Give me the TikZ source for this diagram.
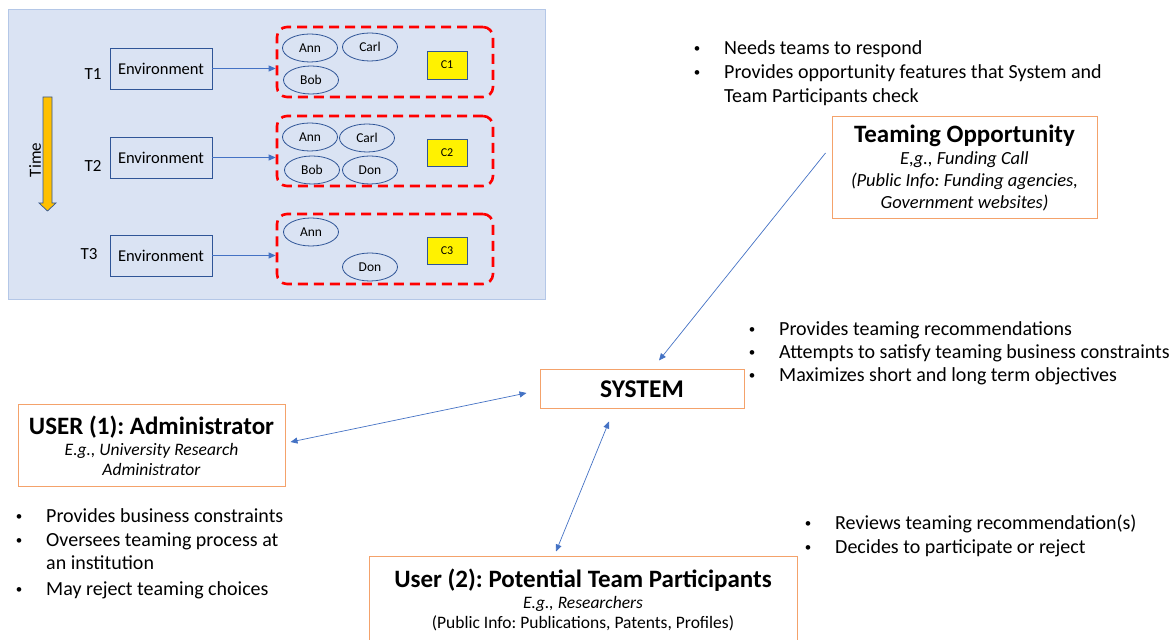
\documentclass[tikz,border=0pt]{standalone}
\usepackage{fontspec}
\setmainfont{Carlito}
\usetikzlibrary{calc,positioning,arrows.meta,shapes.geometric}
\frenchspacing

\definecolor{panelblue}{HTML}{DAE3F3}
\definecolor{panelline}{HTML}{B4C7E7}
\definecolor{darkblue}{HTML}{2F5597}
\definecolor{linkblue}{HTML}{4472C4}
\definecolor{boxorange}{HTML}{F4A26B}
\definecolor{timegold}{HTML}{FFC000}

\newcommand{\titlefont}{\fontsize{25}{29}\selectfont\bfseries}
\newcommand{\listfont}{\fontsize{20}{24}\selectfont}

\tikzset{
  tlabel/.style={font=\fontsize{17}{20}\selectfont},
  env/.style={draw=darkblue, line width=0.9pt, minimum width=102pt, minimum height=41pt,
    inner sep=0pt, font=\fontsize{16.5}{20}\selectfont},
  group/.style={draw=red, line width=2.6pt, dash pattern=on 10pt off 6pt,
    rounded corners=10pt, minimum width=216pt, minimum height=70pt},
  member/.style={draw=darkblue, ellipse, line width=0.8pt, minimum width=55pt,
    minimum height=28pt, inner sep=0pt, font=\fontsize{13.5}{15}\selectfont},
  cbox/.style={draw=darkblue, fill=yellow, line width=0.8pt, minimum width=40pt,
    minimum height=28pt, inner sep=0pt, font=\fontsize{12}{13}\selectfont},
  role/.style={draw=boxorange, line width=1pt, align=center, inner sep=0pt},
  envlink/.style={->, linkblue, line width=0.7pt},
  link/.style={->, linkblue, line width=0.7pt},
  bul/.style={inner sep=0pt, font=\listfont},
}

% bullet item: name, x, baseline y, text
\newcommand{\bitem}[4]{%
  \node[bul, anchor=base] (#1dot) at (#2,#3)
    {\raisebox{2.3pt}{\fontsize{13}{13}\selectfont\textbullet}};
  \node[bul, anchor=base west] (#1) at ($(#2,#3)+(27,0)$) {#4};}
% continuation line of an item
\newcommand{\bmore}[4]{%
  \node[bul, anchor=base west] (#1) at ($(#2,#3)+(27,0)$) {#4};}

\begin{document}
\begin{tikzpicture}[x=1pt,y=1pt,>={Triangle[width=6pt,length=7pt]}]
    \useasboundingbox (0,0) rectangle (1176,640);
    %
    % left panel: teams over time
    \draw[fill=panelblue, draw=panelline, line width=0.8pt] (8,341) rectangle (545,631);
    \node[tlabel] (t1) at (93,566) {T1};
    \node[tlabel] (t2) at (93,474) {T2};
    \node[tlabel] (t3) at (89,386) {T3};
    \node[env] (env1) at (161,571.5) {Environment};
    \node[env] (env2) at (161,482.5) {Environment};
    \node[env] (env3) at (161,384.5) {Environment};
    \node[group] (grp1) at (385,578) {};
    \node[group] (grp2) at (385,489) {};
    \node[group] (grp3) at (385,391) {};
    \draw[envlink] (env1.east) -- (env1.east -| grp1.west);
    \draw[envlink] (env2.east) -- (env2.east -| grp2.west);
    \draw[envlink] (env3.east) -- (env3.east -| grp3.west);
    %
    \node[member] (ann1) at (310,592) {Ann};
    \node[member] (carl1) at (370,593) {Carl};
    \node[member] (bob1) at (311,560) {Bob};
    \node[cbox] (c1) at (447,575) {C1};
    %
    \node[member] (ann2) at (310,503) {Ann};
    \node[member] (carl2) at (367,502) {Carl};
    \node[member] (bob2) at (312,470) {Bob};
    \node[member] (don2) at (370,470) {Don};
    \node[cbox, minimum height=27pt] (c2) at (447,487.5) {C2};
    %
    \node[member] (ann3) at (311,408) {Ann};
    \node[member] (don3) at (370,373) {Don};
    \node[cbox, minimum height=27pt] (c3) at (447,389.5) {C3};
    %
    % time arrow
    \draw[fill=timegold, draw=darkblue, line width=0.7pt]
        (43,543) -- (52,543) -- (52,437) -- (56,437) -- (47.5,429)
        -- (39,437) -- (43,437) -- cycle;
    \node[tlabel, rotate=90] (time) at (35,480) {Time};
    %
    % roles
    \node[role, minimum width=265pt, minimum height=102pt, font=\fontsize{18.5}{22}\selectfont]
        (opp) at (964.5,472) {{\titlefont Teaming Opportunity}\\ \textit{E,g., Funding Call}\\
        \textit{(Public Info: Funding agencies,}\\ \textit{Government websites)}};
    \node[role, minimum width=204pt, minimum height=39pt, font=\fontsize{25.5}{29}\selectfont\bfseries]
        (sys) at (642,250.5) {SYSTEM};
    \node[role, minimum width=267pt, minimum height=82pt, font=\fontsize{17.5}{20.5}\selectfont]
        (adm) at (151.5,194) {{\titlefont USER (1): Administrator}\\ \textit{E.g., University Research}\\
        \textit{Administrator}};
    \node[role, minimum width=428pt, minimum height=86pt, font=\fontsize{17.5}{20.5}\selectfont]
        (part) at (583,40) {{\titlefont User (2): Potential Team Participants}\\ \textit{E.g., Researchers}\\
        (Public Info: Publications, Patents, Profiles)};
    %
    \draw[link] ($(opp.west)+(-6,15)$) -- ($(sys.north)+(17,9)$);
    \draw[link, <->] ($(sys.west)+(-13,-3.5)$) -- ($(adm.east)+(5,4)$);
    \draw[link, <->] ($(sys.south)+(-33,-12)$) -- ($(part.north)+(-27,5)$);
    %
    % bullet lists
    \bitem{oppa}{697}{585}{Needs teams to respond}
    \bitem{oppb}{697}{561}{Provides opportunity features that System and}
    \bmore{oppc}{697}{537}{Team Participants check}
    \bitem{sysa}{752}{304}{Provides teaming recommendations}
    \bitem{sysb}{752}{281}{Attempts to satisfy teaming business constraints}
    \bitem{sysc}{752}{258}{Maximizes short and long term objectives}
    \bitem{adma}{19}{117}{Provides business constraints}
    \bitem{admb}{19}{93}{Oversees teaming process at}
    \bmore{admc}{19}{70}{an institution}
    \bitem{admd}{19}{44}{May reject teaming choices}
    \bitem{parta}{808}{110}{Reviews teaming recommendation(s)}
    \bitem{partb}{808}{86}{Decides to participate or reject}
\end{tikzpicture}
\end{document}
